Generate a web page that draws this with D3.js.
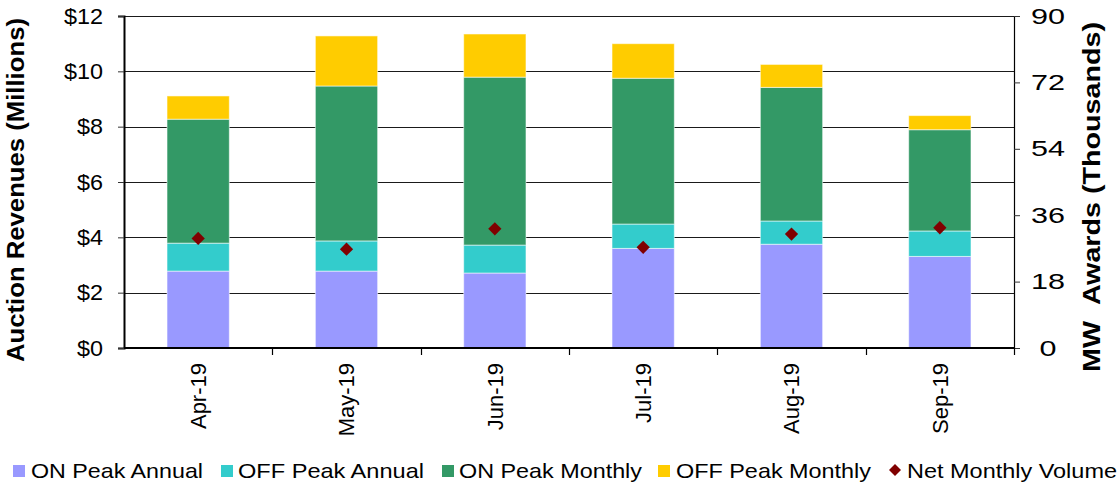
<!DOCTYPE html>
<html>
<head>
<meta charset="utf-8">
<script src="https://cdn.jsdelivr.net/npm/d3@7"></script>
<style>
  html, body { margin: 0; padding: 0; background: #fff; }
  svg { display: block; font-family: "Liberation Sans", Arial, sans-serif; }
</style>
</head>
<body>
<svg id="chart" width="1119" height="485"></svg>
<script>
// ---- Data ----
const months = ["Apr-19", "May-19", "Jun-19", "Jul-19", "Aug-19", "Sep-19"];
const onPeakAnnual   = [2.78, 2.78, 2.71, 3.60, 3.75, 3.31];
const offPeakAnnual  = [1.01, 1.09, 1.01, 0.88, 0.84, 0.92];
const onPeakMonthly  = [4.48, 5.60, 6.07, 5.27, 4.83, 3.66];
const offPeakMonthly = [0.84, 1.81, 1.56, 1.25, 0.83, 0.51];
const netMonthlyVolume = [29.7, 26.8, 32.3, 27.3, 30.9, 32.6]; // MW thousands
const leftTicks = [0, 2, 4, 6, 8, 10, 12];
const rightTicks = [0, 18, 36, 54, 72, 90];
const seriesNames = ["ON Peak Annual", "OFF Peak Annual", "ON Peak Monthly", "OFF Peak Monthly"];
const seriesColors = ["#9999FF", "#33CCCC", "#339966", "#FFCC00"];
const volumeName = "Net Monthly Volume";
const volumeColor = "#800000";

// ---- Layout ----
const svg = d3.select("#chart");
const L = 124, R = 1014, T = 16, B = 348;
const font = "'Liberation Sans', Arial, sans-serif";

const x = d3.scaleBand().domain(months).range([L, R]).paddingInner(0.58).paddingOuter(0.29);
const yL = d3.scaleLinear().domain([0, 12]).range([B, T]);
const yR = d3.scaleLinear().domain([0, 90]).range([B, T]);

// table for stack
const table = months.map((m, i) => ({
  month: m,
  "ON Peak Annual": onPeakAnnual[i],
  "OFF Peak Annual": offPeakAnnual[i],
  "ON Peak Monthly": onPeakMonthly[i],
  "OFF Peak Monthly": offPeakMonthly[i]
}));
const stack = d3.stack().keys(seriesNames)(table);

// gridlines
svg.append("g")
  .selectAll("line").data(leftTicks.filter(d => d > 0)).join("line")
  .attr("x1", L).attr("x2", R)
  .attr("y1", d => Math.round(yL(d)) + 0.5).attr("y2", d => Math.round(yL(d)) + 0.5)
  .attr("stroke", "#1a1a1a").attr("stroke-width", 1.1);

// bars
svg.append("g").selectAll("g").data(stack).join("g")
  .attr("fill", (d, i) => seriesColors[i])
  .selectAll("rect").data(d => d).join("rect")
  .attr("x", d => x(d.data.month))
  .attr("width", x.bandwidth())
  .attr("y", d => yL(d[1]))
  .attr("height", d => yL(d[0]) - yL(d[1]))
  .attr("stroke", "rgba(255,255,255,0.55)")
  .attr("stroke-width", 1);

// diamonds
const diamond = d3.symbol().type(d3.symbolSquare).size(88);
svg.append("g").selectAll("path").data(netMonthlyVolume).join("path")
  .attr("d", diamond)
  .attr("transform", (d, i) => `translate(${x(months[i]) + x.bandwidth() / 2},${yR(d)}) rotate(45)`)
  .attr("fill", volumeColor);

// left axis
const axL = svg.append("g").attr("transform", `translate(${L},0)`)
  .call(d3.axisLeft(yL).tickValues(leftTicks).tickSize(6).tickPadding(15).tickFormat(d => "$" + d));
axL.select(".domain").attr("stroke", "#000").attr("stroke-width", 2);
axL.selectAll(".tick line").attr("stroke", "#333").attr("stroke-width", 1);
axL.selectAll("text").attr("font-size", 22).attr("font-family", font).attr("fill", "#000")
  .attr("textLength", d => ("$" + d).length * 13).attr("lengthAdjust", "spacingAndGlyphs");

// right axis
const axR = svg.append("g").attr("transform", `translate(${R},0)`)
  .call(d3.axisRight(yR).tickValues(rightTicks).tickSize(6).tickPadding(0));
axR.select(".domain").attr("stroke", "#000").attr("stroke-width", 1.2);
axR.selectAll(".tick line").attr("stroke", "#333").attr("stroke-width", 1);
axR.selectAll("text").attr("font-size", 22).attr("font-family", font).attr("fill", "#000")
  .attr("text-anchor", "middle").attr("x", 34)
  .attr("textLength", d => String(d).length * 17).attr("lengthAdjust", "spacingAndGlyphs");

// bottom axis
const bw = (R - L) / months.length;
const axB = svg.append("g").attr("transform", `translate(0,${B})`)
  .call(d3.axisBottom(x).tickSize(0).tickPadding(0));
axB.select(".domain").attr("stroke", "#000").attr("stroke-width", 2)
  .attr("d", `M${L},0H${R}`);
axB.selectAll(".tick text")
  .attr("font-size", 22).attr("font-family", font).attr("fill", "#000")
  .attr("transform", "rotate(-90)")
  .attr("text-anchor", "end")
  .attr("x", -15).attr("y", 0).attr("dy", "0.36em");
// boundary tick marks between categories
axB.append("g").selectAll("line").data(d3.range(1, months.length + 1)).join("line")
  .attr("x1", k => Math.round(L + bw * k) + 0.5).attr("x2", k => Math.round(L + bw * k) + 0.5)
  .attr("y1", 0).attr("y2", 7).attr("stroke", "#000").attr("stroke-width", 1.2);

// axis titles
svg.append("text")
  .attr("transform", `translate(24,${(18 + 362) / 2}) rotate(-90)`)
  .attr("text-anchor", "middle")
  .attr("font-size", 23).attr("font-weight", "bold").attr("font-family", font)
  .attr("textLength", 344).attr("lengthAdjust", "spacingAndGlyphs")
  .text("Auction Revenues (Millions)");
svg.append("text")
  .attr("transform", `translate(1100,${(22 + 372) / 2}) rotate(-90)`)
  .attr("text-anchor", "middle")
  .attr("font-size", 23).attr("font-weight", "bold").attr("font-family", font)
  .attr("textLength", 350).attr("lengthAdjust", "spacingAndGlyphs")
  .style("white-space", "pre")
  .text("MW\u00A0\u00A0Awards (Thousands)");

// legend
const legendItems = [
  { name: seriesNames[0], color: seriesColors[0], sx: 13, tx: 31, tw: 172, type: "sq" },
  { name: seriesNames[1], color: seriesColors[1], sx: 221, tx: 238, tw: 186, type: "sq" },
  { name: seriesNames[2], color: seriesColors[2], sx: 442, tx: 459, tw: 183, type: "sq" },
  { name: seriesNames[3], color: seriesColors[3], sx: 658, tx: 676, tw: 195, type: "sq" },
  { name: volumeName, color: volumeColor, sx: 889, tx: 907, tw: 210, type: "dia" }
];
const lg = svg.append("g");
legendItems.forEach(it => {
  if (it.type === "sq") {
    lg.append("rect").attr("x", it.sx).attr("y", 465).attr("width", 12).attr("height", 12).attr("fill", it.color);
  } else {
    lg.append("path").attr("d", d3.symbol().type(d3.symbolSquare).size(72))
      .attr("transform", `translate(${it.sx + 6},470) rotate(45)`).attr("fill", it.color);
  }
  lg.append("text").attr("x", it.tx).attr("y", 478)
    .attr("font-size", 21).attr("font-family", font).attr("fill", "#000")
    .attr("textLength", it.tw).attr("lengthAdjust", "spacingAndGlyphs")
    .text(it.name);
});
</script>
</body>
</html>
